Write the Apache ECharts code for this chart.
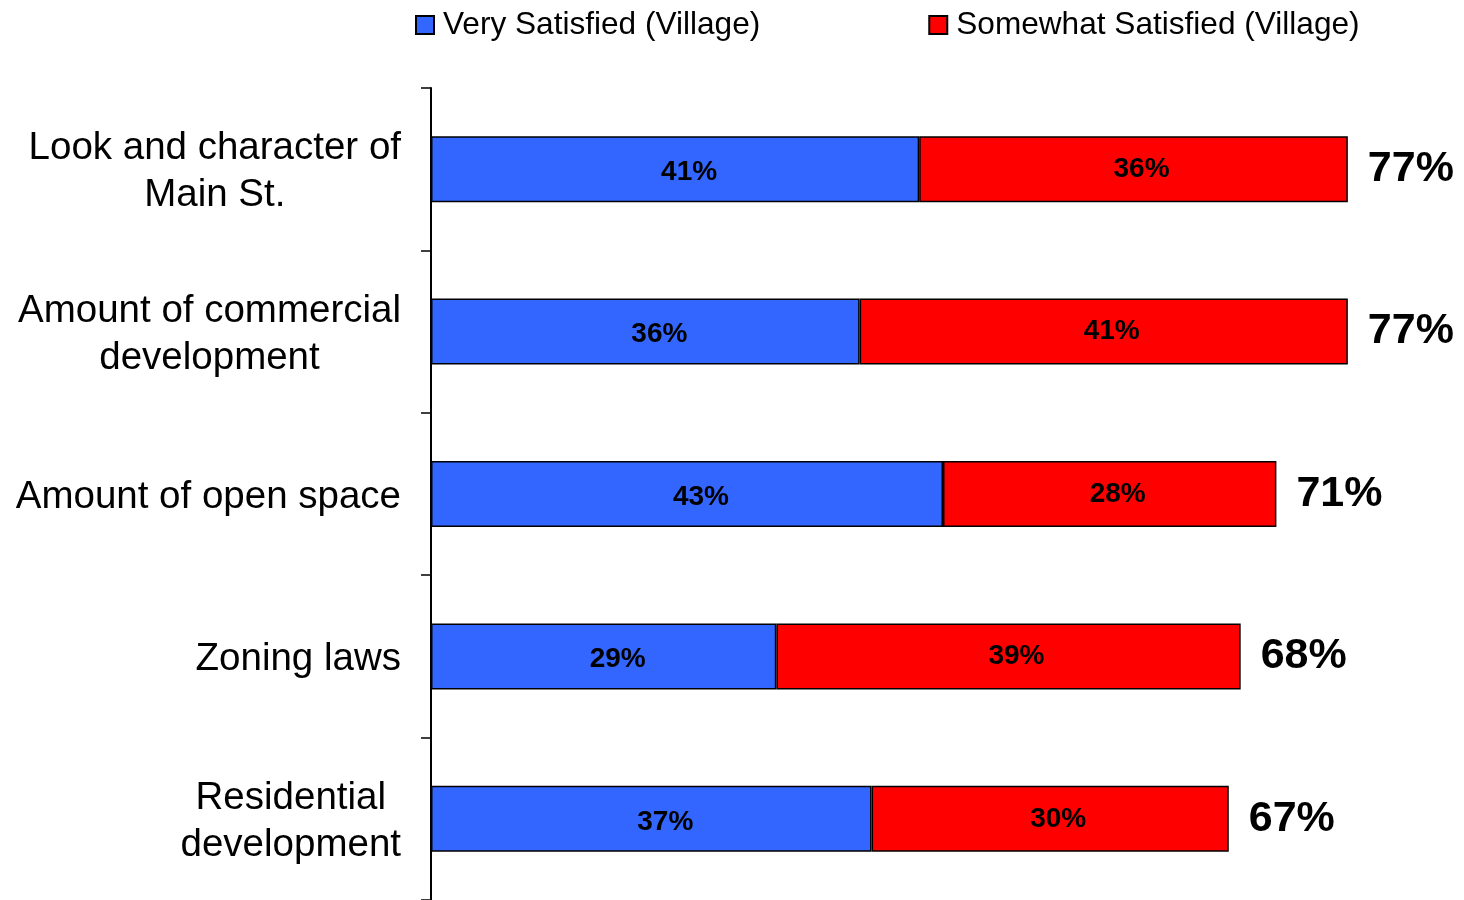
<!DOCTYPE html>
<html>
<head>
<meta charset="utf-8">
<script src="https://cdn.jsdelivr.net/npm/echarts@6/dist/echarts.min.js"></script>
<style>html,body{margin:0;padding:0;background:#fff}#c{width:1464px;height:900px}</style>
</head>
<body>
<div id="c"></div>
<script>
const categories = [
  'Look and character of\nMain St.',
  'Amount of commercial\ndevelopment',
  'Amount of open space',
  'Zoning laws',
  'Residential\ndevelopment'
];
const verySatisfied = [41, 36, 43, 29, 37];
const somewhatSatisfied = [36, 41, 28, 39, 30];
const totals = [77, 77, 71, 68, 67];
const seriesNames = ['Very Satisfied (Village)', 'Somewhat Satisfied (Village)'];

const FONT = '"Liberation Sans", Arial, sans-serif';
const chart = echarts.init(document.getElementById('c'), null, {renderer: 'canvas'});
chart.setOption({
  animation: false,
  backgroundColor: '#ffffff',
  legend: {
    data: seriesNames,
    left: 410,
    top: 4,
    itemWidth: 18,
    itemHeight: 18,
    itemGap: 168,
    icon: 'rect',
    textStyle: {fontFamily: FONT, fontSize: 31.6, color: '#000', padding: [0, 0, 0, 4]}
  },
  grid: {left: 431, top: 88, width: 1024, height: 812, containLabel: false},
  xAxis: {
    type: 'value', min: 0, max: 86, show: false
  },
  yAxis: {
    type: 'category',
    data: categories,
    inverse: true,
    axisLine: {show: true, lineStyle: {color: '#000', width: 2}},
    axisTick: {show: true, length: 10, inside: false, lineStyle: {color: '#000', width: 1.5}},
    splitLine: {show: false},
    axisLabel: {
      margin: 30,
      padding: [6, 0, 0, 0],
      fontFamily: FONT,
      fontSize: 38,
      color: '#000',
      lineHeight: 47,
      formatter: v => v.split('\n').map(s => '{c|' + s + '}').join('\n'),
      rich: {c: {align: 'center', fontFamily: FONT, fontSize: 38.5, lineHeight: 47, color: '#000'}}
    }
  },
  series: [
    {
      name: seriesNames[0], type: 'bar', stack: 't', data: verySatisfied, barWidth: 66,
      itemStyle: {color: '#3366FF', borderColor: '#000', borderWidth: 1.5},
      label: {show: true, position: 'inside', offset: [14, 3], formatter: '{c}%', fontFamily: FONT, fontWeight: 'bold', fontSize: 28, color: '#000'}
    },
    {
      name: seriesNames[1], type: 'bar', stack: 't', data: somewhatSatisfied, barWidth: 66,
      itemStyle: {color: '#FF0000', borderColor: '#000', borderWidth: 1.5},
      label: {show: true, position: 'inside', offset: [8, 0], formatter: '{c}%', fontFamily: FONT, fontWeight: 'bold', fontSize: 28, color: '#000'}
    },
    {
      name: 'Total', type: 'scatter', data: totals, symbolSize: 0, silent: true,
      itemStyle: {opacity: 1},
      label: {show: true, position: 'right', distance: 20, formatter: p => p.value + '%', fontFamily: FONT, fontWeight: 'bold', fontSize: 43, color: '#000000', opacity: 1}
    }
  ]
});
</script>
</body>
</html>
